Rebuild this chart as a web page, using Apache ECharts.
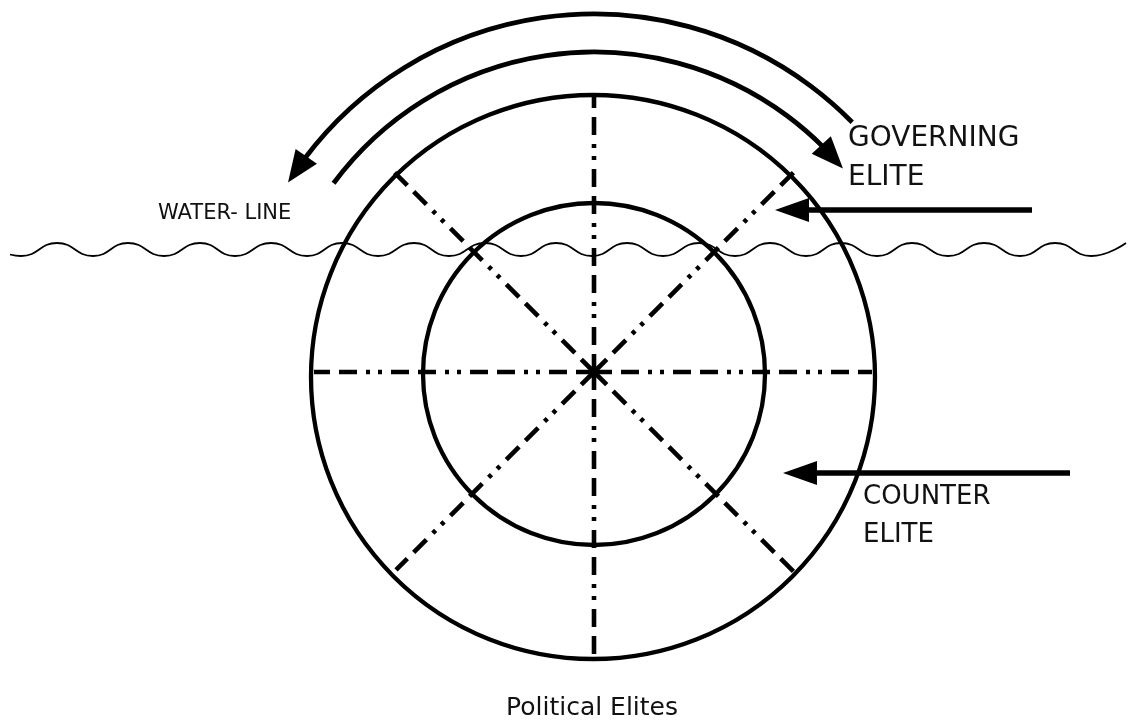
<!DOCTYPE html>
<html>
<head>
<meta charset="utf-8">
<script src="https://cdn.jsdelivr.net/npm/echarts@6/dist/echarts.min.js"></script>
<style>
  html, body { margin: 0; padding: 0; background: #fff; }
  #chart { width: 1128px; height: 723px; }
</style>
</head>
<body>
<div id="chart"></div>
<script>
// diagram space = page pixels (x right, y down)
var W = 1128, H = 723;

// spokes of the wheel
var hubCenter = [594, 372];
var spokeAngles = [0, 45, 90, 135, 180, 225, 270, 315];
var spokeLengths = [278, 284, 277, 284, 280, 280, 290, 284];

// the two rings: inner = counter elite, outer = governing elite
var ringCenters = [[594, 374], [593, 377]];
var ringRadii = [171, 282];

// rotation arcs above the wheel
var arcCenter = [594, 376];
var arcRadii = [362, 324];
var arcFromDeg = [147.7, 143.5];
var arcToDeg = [44.5, 39.8];
var arcHeadSide = ['from', 'to'];

// pointer arrows from the right
var pointerTails = [[1032, 210], [1070, 473]];
var pointerTips = [[775, 210], [783, 473]];

// water line (crests and troughs)
var waveX = [10, 21, 57, 93, 128, 164, 200, 235, 271, 307, 342, 378, 414, 449, 485, 521, 556,
             592, 627, 663, 699, 735, 770, 806, 841, 877, 912, 948, 984, 1020, 1055, 1091, 1126];
var waveY = [254.5, 256, 243, 256, 243, 256, 243, 256, 243, 256, 243, 256, 243, 256, 243, 256, 243,
             256, 243, 256, 243, 256, 243, 256, 243, 256, 243, 256, 243, 256, 243, 256, 243];

// text
var labelText = ['GOVERNING', 'ELITE', 'COUNTER', 'ELITE', 'WATER- LINE', 'Political Elites'];
var labelX = [848, 848, 863, 863, 158, 592];
var labelY = [139, 178, 497, 535, 214, 708];
var labelSize = [28, 28, 26, 26, 21, 25];
var labelAlign = ['left', 'left', 'left', 'left', 'left', 'center'];

var INK = '#000';
var FONT = 'DejaVu Sans';

var myChart = echarts.init(document.getElementById('chart'));

function ringItem(params, api) {
  var c = api.coord([api.value(0), api.value(1)]);
  var r = api.size([api.value(2), 0])[0];
  return {
    type: 'circle',
    shape: { cx: c[0], cy: c[1], r: r },
    style: { fill: null, stroke: INK, lineWidth: 4.3 }
  };
}

function spokeItem(params, api) {
  var a = api.value(0) * Math.PI / 180;
  var len = api.value(1);
  var p0 = api.coord(hubCenter);
  var p1 = api.coord([hubCenter[0] + len * Math.cos(a), hubCenter[1] - len * Math.sin(a)]);
  return {
    type: 'line',
    shape: { x1: p0[0], y1: p0[1], x2: p1[0], y2: p1[1] },
    style: { stroke: INK, lineWidth: 4.6, lineDash: [18, 9, 18, 9, 4, 8, 4, 9], lineCap: 'butt' }
  };
}

function arcItem(params, api) {
  var i = params.dataIndex;
  var c = api.coord(arcCenter);
  var r = api.size([api.value(2), 0])[0];
  var a0 = arcFromDeg[i] * Math.PI / 180;
  var a1 = arcToDeg[i] * Math.PI / 180;
  var headLen = 32, halfW = 13;
  var dA = headLen / r;
  var s = a0, e = a1, tipA, baseA;
  if (arcHeadSide[i] === 'from') {
    tipA = a0; baseA = a0 - dA; s = baseA + 0.01;
  } else {
    tipA = a1; baseA = a1 + dA; e = baseA - 0.01;
  }
  var pt = function(ang) { return [c[0] + r * Math.cos(ang), c[1] - r * Math.sin(ang)]; };
  var tip = pt(tipA), base = pt(baseA);
  var ux = tip[0] - base[0], uy = tip[1] - base[1];
  var ul = Math.sqrt(ux * ux + uy * uy);
  ux /= ul; uy /= ul;
  var nx = -uy, ny = ux;
  return {
    type: 'group',
    children: [{
      type: 'arc',
      shape: { cx: c[0], cy: c[1], r: r, startAngle: -s, endAngle: -e, clockwise: true },
      style: { fill: null, stroke: INK, lineWidth: 4.8 }
    }, {
      type: 'polygon',
      shape: { points: [tip, [base[0] + nx * halfW, base[1] + ny * halfW], [base[0] - nx * halfW, base[1] - ny * halfW]] },
      style: { fill: INK }
    }]
  };
}

function pointerItem(params, api) {
  var t0 = api.coord([api.value(0), api.value(1)]);
  var t1 = api.coord([api.value(2), api.value(3)]);
  var headLen = 34, halfW = 12;
  return {
    type: 'group',
    children: [{
      type: 'line',
      shape: { x1: t0[0], y1: t0[1], x2: t1[0] + headLen - 2, y2: t1[1] },
      style: { stroke: INK, lineWidth: 5.5 }
    }, {
      type: 'polygon',
      shape: { points: [[t1[0], t1[1]], [t1[0] + headLen, t1[1] - halfW], [t1[0] + headLen, t1[1] + halfW]] },
      style: { fill: INK }
    }]
  };
}

function labelItem(params, api) {
  var i = params.dataIndex;
  var p = api.coord([api.value(0), api.value(1)]);
  return {
    type: 'text',
    x: p[0],
    y: p[1],
    style: {
      text: labelText[i],
      fill: '#111',
      fontSize: labelSize[i],
      fontFamily: FONT,
      align: labelAlign[i],
      verticalAlign: 'middle'
    }
  };
}

var option = {
  backgroundColor: '#fff',
  animation: false,
  grid: { left: 0, right: 0, top: 0, bottom: 0 },
  xAxis: { type: 'value', min: 0, max: W, show: false },
  yAxis: { type: 'value', min: 0, max: H, inverse: true, show: false },
  series: [{
    type: 'line',
    name: 'water line',
    smooth: 0.5,
    symbol: 'none',
    lineStyle: { color: INK, width: 1.8 },
    data: waveX.map(function(x, i) { return [x, waveY[i]]; }),
    z: 3
  }, {
    type: 'custom',
    name: 'rings',
    clip: false,
    renderItem: ringItem,
    data: ringRadii.map(function(r, i) { return [ringCenters[i][0], ringCenters[i][1], r]; }),
    z: 2
  }, {
    type: 'custom',
    name: 'spokes',
    clip: false,
    renderItem: spokeItem,
    data: spokeAngles.map(function(a, i) { return [a, spokeLengths[i]]; }),
    z: 2
  }, {
    type: 'custom',
    name: 'rotation',
    clip: false,
    renderItem: arcItem,
    data: arcRadii.map(function(r) { return [arcCenter[0], arcCenter[1], r]; }),
    z: 2
  }, {
    type: 'custom',
    name: 'pointers',
    clip: false,
    renderItem: pointerItem,
    data: pointerTails.map(function(t, i) { return [t[0], t[1], pointerTips[i][0], pointerTips[i][1]]; }),
    z: 4
  }, {
    type: 'custom',
    name: 'labels',
    clip: false,
    renderItem: labelItem,
    data: labelText.map(function(t, i) { return [labelX[i], labelY[i]]; }),
    z: 5
  }]
};

myChart.setOption(option);
window.onresize = myChart.resize;
</script>
</body>
</html>
